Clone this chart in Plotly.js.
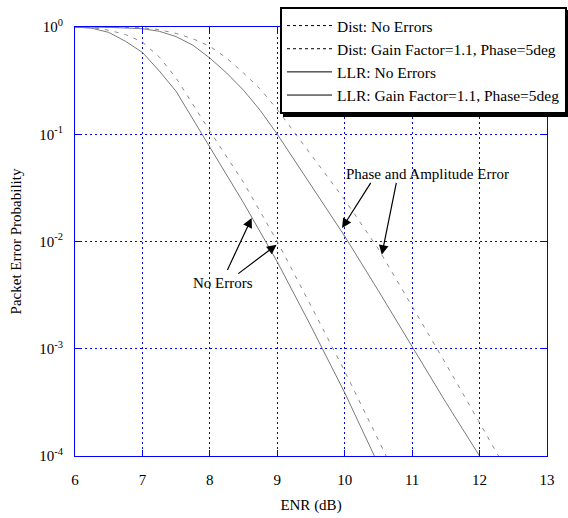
<!DOCTYPE html>
<html>
<head>
<meta charset="utf-8">
<script src="https://cdn.plot.ly/plotly-3.0.1.min.js"></script>
<style>html,body{margin:0;padding:0;background:#fff;}#plot{width:568px;height:518px;}</style>
</head>
<body>
<div id="plot"></div>
<script>
// ENR (dB) sample points and packet error probabilities
var llrNoErrX = [6, 6.25, 6.5, 6.75, 7, 7.25, 7.5, 8, 8.5, 9, 9.5, 10, 10.5];
var llrNoErrY = [1.0, 0.973, 0.891, 0.735, 0.579, 0.389, 0.251, 0.0759, 0.0229, 0.00646, 0.00162, 0.000389, 0.0000832];

var distNoErrX = [6, 6.25, 6.5, 6.75, 7, 7.25, 7.5, 8, 8.5, 9, 9.5, 10, 10.5, 11];
var distNoErrY = [1.0, 0.989, 0.933, 0.851, 0.724, 0.525, 0.334, 0.107, 0.0355, 0.0100, 0.00251, 0.000617, 0.000141, 0.0000316];

var llrGainX = [6, 6.5, 7, 7.25, 7.5, 7.75, 8, 8.25, 8.5, 8.75, 9, 9.5, 10, 10.5, 11, 11.5, 12];
var llrGainY = [1.0, 0.993, 0.964, 0.912, 0.813, 0.676, 0.513, 0.372, 0.257, 0.166, 0.100, 0.0339, 0.0112, 0.00347, 0.00105, 0.000316, 0.000100];

var distGainX = [6, 6.5, 7, 7.25, 7.5, 7.75, 8, 8.25, 8.5, 8.75, 9, 9.5, 10, 10.5, 11, 11.5, 12, 12.5];
var distGainY = [1.0, 0.998, 0.986, 0.944, 0.871, 0.776, 0.661, 0.513, 0.372, 0.263, 0.170, 0.0646, 0.0245, 0.00851, 0.00251, 0.000724, 0.000204, 0.0000575];

var seriesNames = ['Dist: No Errors', 'Dist: Gain Factor=1.1, Phase=5deg', 'LLR: No Errors', 'LLR: Gain Factor=1.1, Phase=5deg'];
var xTicks = [6, 7, 8, 9, 10, 11, 12, 13];
var yTickVals = [1e-4, 1e-3, 1e-2, 1e-1, 1];
var yTickText = ['10<sup>-4</sup>', '10<sup>-3</sup>', '10<sup>-2</sup>', '10<sup>-1</sup>', '10<sup>0</sup>'];

var FONT = 'Liberation Serif, Times New Roman, serif';
var curveDash = '4px,6px';
var legendDash = '3px,3px';

var traces = [
  {x: distNoErrX, y: distNoErrY, mode: 'lines', showlegend: false, line: {color: '#8a8a8a', width: 1, dash: curveDash}},
  {x: distGainX, y: distGainY, mode: 'lines', showlegend: false, line: {color: '#8a8a8a', width: 1, dash: curveDash}},
  {x: llrNoErrX, y: llrNoErrY, mode: 'lines', showlegend: false, line: {color: '#7a7a7a', width: 1}},
  {x: llrGainX, y: llrGainY, mode: 'lines', showlegend: false, line: {color: '#7a7a7a', width: 1}},
  // legend entries (black line samples as in the reference)
  {x: [null], y: [null], mode: 'lines', name: seriesNames[0], line: {color: '#000', width: 1, dash: legendDash}},
  {x: [null], y: [null], mode: 'lines', name: seriesNames[1], line: {color: '#000', width: 1, dash: legendDash}},
  {x: [null], y: [null], mode: 'lines', name: seriesNames[2], line: {color: '#000', width: 1}},
  {x: [null], y: [null], mode: 'lines', name: seriesNames[3], line: {color: '#000', width: 1}}
];

var arrowCommon = {xref: 'x', yref: 'y', axref: 'x', ayref: 'y', text: '', showarrow: true,
  arrowhead: 2, arrowsize: 1.6, arrowwidth: 1.2, arrowcolor: '#000', standoff: 0, startstandoff: 0};

var annotations = [
  {x: 8.19, y: -2.39, xref: 'x', yref: 'y', text: 'No Errors', showarrow: false, font: {family: FONT, size: 15, color: '#000'}},
  Object.assign({}, arrowCommon, {x: 8.62, y: -1.78, ax: 8.25, ay: -2.28}),
  Object.assign({}, arrowCommon, {x: 8.99, y: -2.03, ax: 8.4, ay: -2.31}),
  {x: 11.23, y: -1.37, xref: 'x', yref: 'y', text: 'Phase and Amplitude Error', showarrow: false, font: {family: FONT, size: 15, color: '#000'}},
  Object.assign({}, arrowCommon, {x: 9.96, y: -1.875, ax: 10.4, ay: -1.44}),
  Object.assign({}, arrowCommon, {x: 10.55, y: -2.124, ax: 10.77, ay: -1.44})
];

var layout = {
  width: 568, height: 518,
  margin: {l: 75, r: 21, t: 27, b: 62, autoexpand: false},
  paper_bgcolor: '#fff', plot_bgcolor: '#fff',
  font: {family: FONT, size: 15, color: '#000'},
  showlegend: true,
  legend: {
    x: 1.0424, y: 1.0466, xanchor: 'right', yanchor: 'top',
    bgcolor: '#fff', bordercolor: '#000', borderwidth: 2,
    font: {family: FONT, size: 15.5, color: '#000'},
    itemwidth: 45, tracegroupgap: 0
  },
  xaxis: {
    range: [6, 13], tickvals: xTicks, ticktext: xTicks.map(String),
    showline: true, linecolor: '#0000ff', linewidth: 1, mirror: 'ticks',
    ticks: 'inside', ticklen: 6, tickcolor: '#0000ff', tickwidth: 1,
    showgrid: true, gridcolor: '#0000ff', gridwidth: 1, griddash: '2px,3px',
    zeroline: false, ticklabelstandoff: 10, tickfont: {family: FONT, size: 15, color: '#000'},
    title: {text: 'ENR (dB)', font: {family: FONT, size: 15, color: '#000'}, standoff: 12}
  },
  yaxis: {
    type: 'log', range: [-4, 0], tickvals: yTickVals, ticktext: yTickText,
    showline: true, linecolor: '#0000ff', linewidth: 1, mirror: 'ticks',
    ticks: 'inside', ticklen: 6, tickcolor: '#0000ff', tickwidth: 1,
    showgrid: true, gridcolor: '#0000ff', gridwidth: 1, griddash: '2px,3px',
    zeroline: false, ticklabelstandoff: 8, tickfont: {family: FONT, size: 15, color: '#000'},
    title: {text: 'Packet Error Probability', font: {family: FONT, size: 15, color: '#000'}, standoff: 14}
  },
  annotations: annotations
};

Plotly.newPlot('plot', traces, layout, {displayModeBar: false, staticPlot: true}).then(function (gd) {
  // drop shadow behind the legend box (as in the reference), drawn inside the legend group
  var bg = gd.querySelector('.legend rect.bg');
  if (!bg) return;
  var sh = bg.cloneNode(false);
  sh.setAttribute('class', 'legend-shadow');
  sh.setAttribute('transform', (bg.getAttribute('transform') || '') + ' translate(3,3)');
  sh.style.fill = '#000';
  sh.style.fillOpacity = '1';
  sh.style.stroke = '#000';
  sh.style.strokeWidth = '2px';
  bg.parentNode.insertBefore(sh, bg);
});
</script>
</body>
</html>
